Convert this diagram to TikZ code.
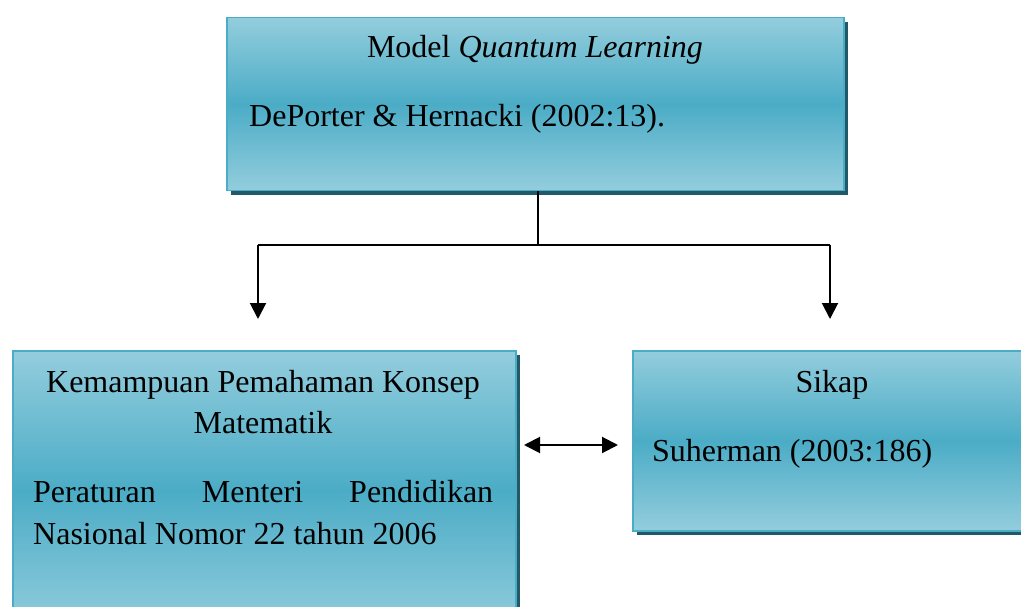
\documentclass[tikz,border=0pt]{standalone}
\usepackage{fontspec}
\setmainfont{Liberation Serif}
\usetikzlibrary{arrows.meta,shadows}
\definecolor{lightc}{HTML}{93CDDD}
\definecolor{midc}{HTML}{4BACC6}
\definecolor{edgec}{HTML}{4BACC6}
\definecolor{shadc}{HTML}{215968}
\tikzset{
  box/.style={draw=edgec, line width=1.5pt, top color=lightc, bottom color=lightc, middle color=midc,
    drop shadow={shadow xshift=4pt, shadow yshift=-4pt, fill=shadc, opacity=1},
    inner sep=0pt, anchor=north west},
  txt/.style={font=\fontsize{32}{42}\selectfont, inner sep=0pt},
  conn/.style={line width=2pt},
  arr/.style={line width=2pt, -{Triangle[length=16pt,width=16pt]}},
  darr/.style={line width=2pt, {Triangle[length=16pt,width=16pt]}-{Triangle[length=16pt,width=16pt]}}
}
\begin{document}
\begin{tikzpicture}[x=1pt,y=-1pt]
\useasboundingbox (0,0) rectangle (1021,607);
% boxes
\node[box, minimum width=617pt, minimum height=173pt] (top) at (226,17) {};
\node[box, minimum width=503pt, minimum height=280pt] (left) at (12,350) {};
\node[box, minimum width=420pt, minimum height=180pt] (right) at (632,350) {};
% texts top
\node[txt, anchor=base] (t1) at (535,58) {Model \textit{Quantum Learning}};
\node[txt, anchor=base west] (t2) at (249,127) {DePorter \& Hernacki (2002:13).};
% texts left
\node[txt, anchor=base] (l1) at (263,392) {Kemampuan Pemahaman Konsep};
\node[txt, anchor=base] (l2) at (263,433) {Matematik};
\node[txt, anchor=base west] (l3) at (33,502) {\makebox[460pt][s]{Peraturan\hfill Menteri\hfill Pendidikan}};
\node[txt, anchor=base west] (l4) at (33,544) {Nasional Nomor 22 tahun 2006};
% texts right
\node[txt, anchor=base] (r1) at (832,392) {Sikap};
\node[txt, anchor=base west] (r2) at (652,461) {Suherman (2003:186)};
% connectors
\coordinate (j) at (538,245);
\coordinate (jl) at (258,245);
\coordinate (jr) at (830,245);
\coordinate (el) at (258,319);
\coordinate (er) at (830,319);
\coordinate (da) at (524,445);
\coordinate (db) at (618,445);
\draw[conn] (top.south -| j) -- (j);
\draw[conn] (jl) -- (jr);
\draw[arr] (jl) -- (el);
\draw[arr] (jr) -- (er);
\draw[darr] (da) -- (db);
\end{tikzpicture}
\end{document}
